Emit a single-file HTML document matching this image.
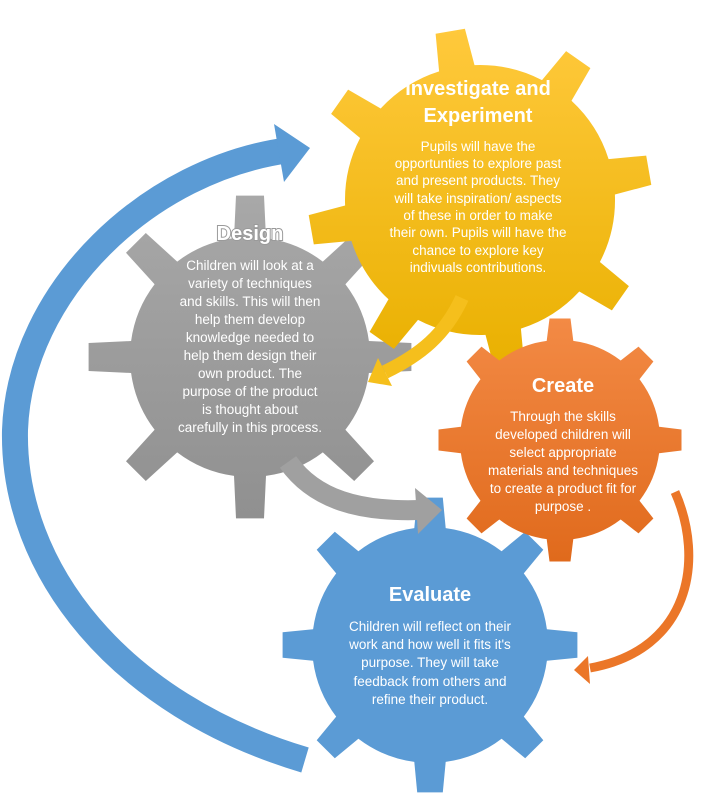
<!DOCTYPE html>
<html><head><meta charset="utf-8"><style>
html,body{margin:0;padding:0;background:#fff;}
svg{display:block;}
text{font-family:"Liberation Sans Narrow","Liberation Sans",sans-serif;fill:#fff;text-anchor:middle;}
.b{font-size:13.5px;}
.t{font-size:20px;font-weight:bold;}
.h{stroke:#9a9a9a;stroke-width:2px;paint-order:stroke;}
</style></head><body>
<svg id="s" width="716" height="793" viewBox="0 0 716 793" xmlns="http://www.w3.org/2000/svg">
<defs>
<linearGradient id="gy" x1="0" y1="0" x2="0" y2="1"><stop offset="0" stop-color="#ffc93c"/><stop offset="1" stop-color="#e9b000"/></linearGradient>
<linearGradient id="gg" x1="0" y1="0" x2="0" y2="1"><stop offset="0" stop-color="#a8a8a8"/><stop offset="1" stop-color="#909090"/></linearGradient>
<linearGradient id="go" x1="0" y1="0" x2="0" y2="1"><stop offset="0" stop-color="#f38a45"/><stop offset="1" stop-color="#e06a1c"/></linearGradient>
</defs>
<path d="M305,760 C120,705 12,570 15,430 C20,290 150,168 290,150" fill="none" stroke="#5b9bd5" stroke-width="26"/>
<polygon points="274,124 310,148 284,182" fill="#5b9bd5"/>
<path id="gGray" fill="url(#gg)"/>
<path id="gYel" fill="url(#gy)"/>
<path id="gBlue" fill="#5b9bd5"/>
<path id="gOr" fill="url(#go)"/>
<path d="M462,298 C445,335 420,355 385,372" fill="none" stroke="#f5bf1c" stroke-width="14"/>
<polygon points="378,358 368,382 392,386" fill="#f5bf1c"/>
<path d="M288,462 C315,500 360,512 420,510" fill="none" stroke="#a0a0a0" stroke-width="20"/>
<polygon points="415,488 442,510 418,534" fill="#a0a0a0"/>
<path d="M675,492 C705,560 690,650 590,668" fill="none" stroke="#eb7628" stroke-width="9"/>
<polygon points="588,656 574,670 590,684" fill="#eb7628"/>

<text class="t" x="478" y="95">Investigate and</text>
<text class="t" x="478" y="122">Experiment</text>
<text class="b" x="478" y="151">Pupils will have the</text>
<text class="b" x="478" y="168">opportunties to explore past</text>
<text class="b" x="478" y="185">and present products. They</text>
<text class="b" x="478" y="203">will take inspiration/ aspects</text>
<text class="b" x="478" y="220">of these in order to make</text>
<text class="b" x="478" y="237">their own. Pupils will have the</text>
<text class="b" x="478" y="255">chance to explore  key</text>
<text class="b" x="478" y="272">indivuals contributions.</text>

<text class="t h" x="250" y="240">Design</text>
<text class="b" x="250" y="270">Children will look at a</text>
<text class="b" x="250" y="288">variety of techniques</text>
<text class="b" x="250" y="306">and skills. This will then</text>
<text class="b" x="250" y="324">help them develop</text>
<text class="b" x="250" y="342">knowledge needed to</text>
<text class="b" x="250" y="360">help them design their</text>
<text class="b" x="250" y="378">own product. The</text>
<text class="b" x="250" y="396">purpose of the product</text>
<text class="b" x="250" y="414">is thought about</text>
<text class="b" x="250" y="432">carefully in this process.</text>

<text class="t" x="563" y="392">Create</text>
<text class="b" x="563" y="421">Through the skills</text>
<text class="b" x="563" y="439">developed children will</text>
<text class="b" x="563" y="457">select appropriate</text>
<text class="b" x="563" y="475">materials and techniques</text>
<text class="b" x="563" y="493">to create a product fit for</text>
<text class="b" x="563" y="511">purpose .</text>

<text class="t" x="430" y="601">Evaluate</text>
<text class="b" x="430" y="631">Children will reflect on their</text>
<text class="b" x="430" y="649">work and how well it fits it's</text>
<text class="b" x="430" y="667">purpose. They will take</text>
<text class="b" x="430" y="686">feedback from others  and</text>
<text class="b" x="430" y="704">refine their product.</text>
</svg>
<script>
function gear(cx,cy,rb,rt,n,rot){
  var d="",step=2*Math.PI/n,hb=step*0.17,ht=step*0.11;
  function p(a,r){return (cx+Math.cos(a)*r).toFixed(1)+","+(cy+Math.sin(a)*r).toFixed(1);}
  for(var i=0;i<n;i++){
    var a=rot*Math.PI/180+i*step;
    d+=(i==0?"M":"L")+p(a-hb,rb)+" L"+p(a-ht,rt)+" L"+p(a+ht,rt)+" L"+p(a+hb,rb);
    d+=" A"+rb+","+rb+" 0 0 1 "+p(a+step-hb,rb)+" ";
  }
  return d+"Z";
}
document.getElementById("gGray").setAttribute("d",gear(250,357,120,162,8,-90));
document.getElementById("gYel").setAttribute("d",gear(480,200,135,172,8,-100));
document.getElementById("gBlue").setAttribute("d",gear(430,645,118,148,8,-90));
document.getElementById("gOr").setAttribute("d",gear(560,440,100,122,8,-90));
</script>
</body></html>
